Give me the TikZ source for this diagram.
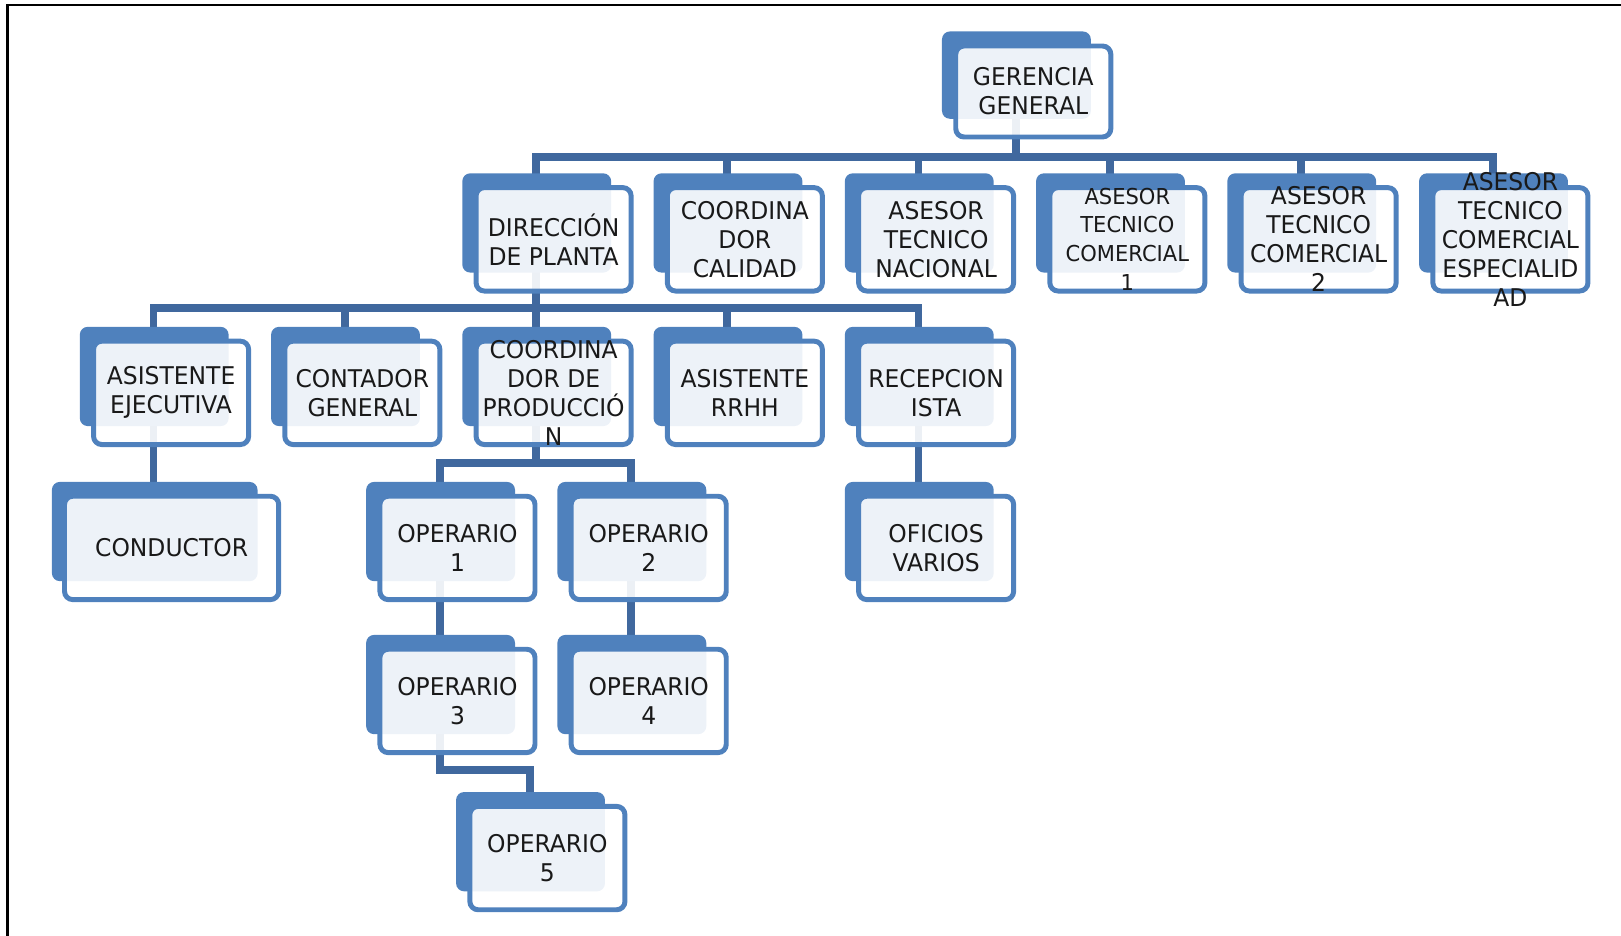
\documentclass[tikz,border=0pt]{standalone}
\usepackage{fontspec}
\setmainfont{DejaVu Sans}[FakeStretch=0.96]
\usetikzlibrary{shadows}
\definecolor{boxblue}{RGB}{79,129,189}
\definecolor{linkblue}{RGB}{64,104,158}
\newcommand\rolefont{\fontsize{11.8}{14}\selectfont}
\newcommand\smallrolefont{\fontsize{10.6}{14}\selectfont}
\pgfdeclarelayer{background}
\pgfsetlayers{background,main}
\begin{document}
\begin{tikzpicture}[x=0.5pt,y=-0.5pt,
    role/.style={draw=boxblue, line width=2.4pt, rounded corners=4pt, fill=white, fill opacity=0.9,
        minimum width=75pt, minimum height=50pt, inner sep=0pt,
        general shadow={fill=boxblue, draw=none, fill opacity=1, shadow xshift=-8.5pt, shadow yshift=8.25pt, shadow scale=0.96}},
    link/.style={draw=linkblue, line width=3.8pt},
    every label/.style={font=\rolefont, text=black!90, align=center, text opacity=1, fill opacity=1, inner sep=0pt}]
    \useasboundingbox (0,0) rectangle (1568,905);
    \draw[line width=1.4pt] (1568,4.8) -| (7,905);

    \node[role, minimum height=44pt, label={center:GERENCIA\\GENERAL}] (gg) at (999.5, 88.5) {};

    \node[role, label={center:DIRECCIÓN\\DE PLANTA}] (dp) at (535.5, 231.5) {};
    \node[role, label={center:COORDINA\\DOR\\CALIDAD}] (cc) at (720.5, 231.5) {};
    \node[role, label={center:ASESOR\\TECNICO\\NACIONAL}] (atn) at (905.5, 231.5) {};
    \node[role, label={[font=\smallrolefont]center:ASESOR\\TECNICO\\COMERCIAL\\1}] (atc1) at (1090.5, 231.5) {};
    \node[role, label={center:ASESOR\\TECNICO\\COMERCIAL\\2}] (atc2) at (1275.5, 231.5) {};
    \node[role, label={center:ASESOR\\TECNICO\\COMERCIAL\\ESPECIALID\\AD}] (atce) at (1461, 231.5) {};

    \node[role, label={center:ASISTENTE\\EJECUTIVA}] (ae) at (165.5, 380) {};
    \node[role, label={center:CONTADOR\\GENERAL}] (cg) at (350.5, 380) {};
    \node[role, label={center:COORDINA\\DOR DE\\PRODUCCIÓ\\N}] (cp) at (535.5, 380) {};
    \node[role, label={center:ASISTENTE\\RRHH}] (arh) at (720.5, 380) {};
    \node[role, label={center:RECEPCION\\ISTA}] (rec) at (905.5, 380) {};

    \node[role, minimum width=103.6pt, label={center:CONDUCTOR}] (cond) at (166, 530) {};
    \node[role, label={center:OPERARIO\\1}] (op1) at (442.5, 530) {};
    \node[role, label={center:OPERARIO\\2}] (op2) at (627.5, 530) {};
    \node[role, label={center:OFICIOS\\VARIOS}] (ofv) at (905.5, 530) {};

    \node[role, label={center:OPERARIO\\3}] (op3) at (442.5, 678) {};
    \node[role, label={center:OPERARIO\\4}] (op4) at (627.5, 678) {};

    \node[role, label={center:OPERARIO\\5}] (op5) at (529.5, 830) {};

    \begin{pgfonlayer}{background}
    \draw[link] ([xshift=-8.5pt]gg.center) -- ++(0,63.5) -| ([xshift=-8.5pt]dp.center);
    \draw[link] ([xshift=-8.5pt]gg.center) -- ++(0,63.5) -| ([xshift=-8.5pt]cc.center);
    \draw[link] ([xshift=-8.5pt]gg.center) -- ++(0,63.5) -| ([xshift=-8.5pt]atn.center);
    \draw[link] ([xshift=-8.5pt]gg.center) -- ++(0,63.5) -| ([xshift=-8.5pt]atc1.center);
    \draw[link] ([xshift=-8.5pt]gg.center) -- ++(0,63.5) -| ([xshift=-8.5pt]atc2.center);
    \draw[link] ([xshift=-8.5pt]gg.center) -- ++(0,63.5) -| ([xshift=-8.5pt]atce.center);

    \draw[link] ([xshift=-8.5pt]dp.center) -- ++(0,66.5) -| ([xshift=-8.5pt]ae.center);
    \draw[link] ([xshift=-8.5pt]dp.center) -- ++(0,66.5) -| ([xshift=-8.5pt]cg.center);
    \draw[link] ([xshift=-8.5pt]dp.center) -- ++(0,66.5) -| ([xshift=-8.5pt]cp.center);
    \draw[link] ([xshift=-8.5pt]dp.center) -- ++(0,66.5) -| ([xshift=-8.5pt]arh.center);
    \draw[link] ([xshift=-8.5pt]dp.center) -- ++(0,66.5) -| ([xshift=-8.5pt]rec.center);

    \draw[link] ([xshift=-8.5pt]ae.center) -- ([xshift=-8.5pt]ae.center |- cond.center);
    \draw[link] ([xshift=-8.5pt]cp.center) -- ++(0,68) -| ([xshift=-8.5pt]op1.center);
    \draw[link] ([xshift=-8.5pt]cp.center) -- ++(0,68) -| ([xshift=-8.5pt]op2.center);
    \draw[link] ([xshift=-8.5pt]rec.center) -- ([xshift=-8.5pt]ofv.center);

    \draw[link] ([xshift=-8.5pt]op1.center) -- ([xshift=-8.5pt]op3.center);
    \draw[link] ([xshift=-8.5pt]op2.center) -- ([xshift=-8.5pt]op4.center);
    \draw[link] ([xshift=-8.5pt]op3.center) -- ++(0,67) -| ([xshift=-8.5pt]op5.center);
    \end{pgfonlayer}
\end{tikzpicture}
\end{document}
